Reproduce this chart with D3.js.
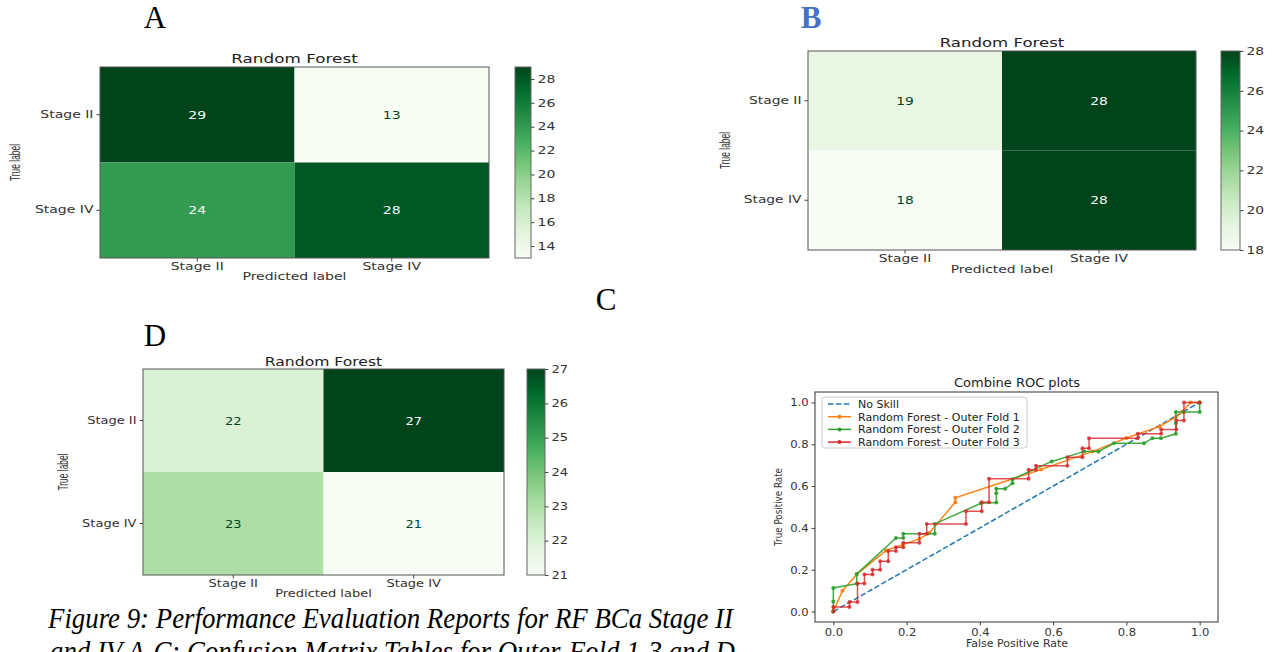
<!DOCTYPE html>
<html>
<head>
<meta charset="utf-8">
<script src="https://cdn.jsdelivr.net/npm/d3@7"></script>
<style>
    body { margin: 0; background: white; }
    svg { font-family: "DejaVu Sans", sans-serif; }
</style>
</head>
<body>
<svg id="fig" width="1274" height="652"></svg>
<script>
    // class names of the confusion matrices
    const classes = ["Stage II", "Stage IV"];

    // confusion matrices, rows = true label, columns = predicted label
    const matrixA = [[29, 13], [24, 28]];
    const matrixB = [[19, 28], [18, 28]];
    const matrixD = [[22, 27], [23, 21]];

    // colorbar tick labels
    const ticksA = [14, 16, 18, 20, 22, 24, 26, 28];
    const ticksB = [18, 20, 22, 24, 26, 28];
    const ticksD = [21, 22, 23, 24, 25, 26, 27];

    // ROC curves, [false positive rate, true positive rate]
    const rocTicks = [0, 0.2, 0.4, 0.6, 0.8, 1.0];
    const noSkill = [[0, 0], [1, 1]];
    const fold1 = [[0, 0], [0.025, 0.1], [0.064, 0.178], [0.144, 0.292], [0.19, 0.32], [0.235, 0.348],
        [0.262, 0.376], [0.333, 0.523], [0.333, 0.544], [0.567, 0.679], [0.707, 0.765], [0.8, 0.83],
        [0.89, 0.885], [0.935, 0.93], [0.953, 0.957], [0.975, 1.0], [1.0, 1.0]];
    const fold2 = [[0, 0], [0, 0.048], [0, 0.113], [0.064, 0.133], [0.064, 0.18], [0.171, 0.352],
        [0.191, 0.352], [0.191, 0.372], [0.277, 0.372], [0.277, 0.419], [0.403, 0.518], [0.445, 0.521],
        [0.445, 0.566], [0.445, 0.587], [0.469, 0.587], [0.489, 0.614], [0.489, 0.633], [0.596, 0.718],
        [0.685, 0.766], [0.724, 0.766], [0.766, 0.805], [0.848, 0.805], [0.871, 0.829], [0.894, 0.829],
        [0.935, 0.85], [0.935, 0.9], [0.935, 0.954], [0.957, 0.954], [1.0, 0.954], [1.0, 1.0]];
    const fold3 = [[0, 0], [0, 0.022], [0.044, 0.022], [0.044, 0.046], [0.066, 0.046], [0.066, 0.134],
        [0.085, 0.134], [0.085, 0.177], [0.107, 0.177], [0.107, 0.2], [0.128, 0.2], [0.128, 0.241],
        [0.15, 0.241], [0.15, 0.289], [0.171, 0.289], [0.171, 0.308], [0.191, 0.308], [0.191, 0.329],
        [0.235, 0.329], [0.235, 0.372], [0.255, 0.372], [0.255, 0.419], [0.362, 0.419], [0.362, 0.48],
        [0.405, 0.48], [0.405, 0.523], [0.425, 0.523], [0.425, 0.635], [0.533, 0.635], [0.533, 0.678],
        [0.553, 0.678], [0.553, 0.697], [0.639, 0.697], [0.639, 0.738], [0.68, 0.738], [0.68, 0.781],
        [0.698, 0.781], [0.698, 0.829], [0.831, 0.829], [0.831, 0.85], [0.895, 0.85], [0.895, 0.871],
        [0.936, 0.871], [0.936, 0.914], [0.957, 0.914], [0.957, 1.0], [1.0, 1.0]];

    const svg = d3.select("#fig");
    svg.append("rect").attr("width", 1274).attr("height", 652).attr("fill", "white");

    // matplotlib "Greens" = linear ramp through the 9 colorbrewer colours
    const greens = d3.scaleLinear()
        .domain(d3.range(9).map(i => i / 8))
        .range(d3.schemeGreens[9]);

    // the figure was stretched sideways, so widen the text to match
    function fitText(sel, sx) {
        sel.each(function () {
            const n = this.getComputedTextLength();
            d3.select(this).attr("textLength", n * sx).attr("lengthAdjust", "spacingAndGlyphs");
        });
    }

    function styleAxis(g, size, sx) {
        g.select(".domain").remove();
        g.selectAll(".tick line").attr("stroke", "#444");
        g.selectAll(".tick text")
            .attr("font-family", "DejaVu Sans")
            .attr("font-size", size)
            .attr("fill", "#333");
        if (sx) g.selectAll(".tick text").call(fitText, sx);
    }

    function drawMatrix(p) {
        const g = svg.append("g");
        const flat = p.matrix.flat();
        const lo = d3.min(flat), hi = d3.max(flat);
        const color = v => greens((v - lo) / (hi - lo));

        const x = d3.scaleBand().domain(classes).range([p.x, p.x + p.w]);
        const y = d3.scaleBand().domain(classes).range([p.y, p.y + p.h]);

        let cells = [];
        p.matrix.forEach((row, i) => row.forEach((v, j) => cells.push({ t: classes[i], pr: classes[j], v: v })));

        g.selectAll("rect.cell").data(cells).join("rect")
            .attr("class", "cell")
            .attr("x", d => x(d.pr)).attr("y", d => y(d.t))
            .attr("width", x.bandwidth()).attr("height", y.bandwidth())
            .attr("fill", d => color(d.v));

        g.append("rect")
            .attr("x", p.x).attr("y", p.y).attr("width", p.w).attr("height", p.h)
            .attr("fill", "none").attr("stroke", "#555").attr("stroke-width", 1);

        const thresh = (lo + hi) / 2;
        g.selectAll("text.val").data(cells).join("text")
            .attr("class", "val")
            .attr("x", d => x(d.pr) + x.bandwidth() / 2)
            .attr("y", d => y(d.t) + y.bandwidth() / 2 + 4)
            .attr("text-anchor", "middle")
            .attr("font-size", 10)
            .attr("fill", d => d.v < thresh ? greens(1) : greens(0))
            .text(d => d.v)
            .call(fitText, p.sx);

        g.append("g").attr("transform", `translate(${p.x},0)`)
            .call(d3.axisLeft(y).tickSize(3.5).tickPadding(3))
            .call(styleAxis, 10, p.sx);
        g.append("g").attr("transform", `translate(0,${p.y + p.h})`)
            .call(d3.axisBottom(x).tickSize(3.5).tickPadding(1))
            .call(styleAxis, 10, p.sx);

        // title and axis labels
        g.append("text").attr("x", p.x + p.w / 2).attr("y", p.titleY)
            .attr("text-anchor", "middle").attr("font-size", 12).attr("fill", "#222")
            .text("Random Forest").call(fitText, p.sx);
        g.append("text").attr("x", p.x + p.w / 2).attr("y", p.predY)
            .attr("text-anchor", "middle").attr("font-size", 10).attr("fill", "#333")
            .text("Predicted label").call(fitText, p.sx);
        g.append("text")
            .attr("transform", `translate(${p.trueX},${p.y + p.h / 2}) rotate(-90)`)
            .attr("text-anchor", "middle").attr("font-size", 15).attr("fill", "#333")
            .attr("font-family", "Liberation Sans")
            .attr("textLength", 37).attr("lengthAdjust", "spacingAndGlyphs")
            .text("True label");

        // colorbar
        const gid = "grad" + p.id;
        const grad = svg.append("defs").append("linearGradient")
            .attr("id", gid).attr("x1", 0).attr("y1", 1).attr("x2", 0).attr("y2", 0);
        d3.range(0, 1.0001, 0.05).forEach(t => {
            grad.append("stop").attr("offset", t).attr("stop-color", greens(t));
        });
        g.append("rect")
            .attr("x", p.cbX).attr("y", p.y).attr("width", p.cbW).attr("height", p.h)
            .attr("fill", `url(#${gid})`).attr("stroke", "#666").attr("stroke-width", 1);
        const cb = d3.scaleLinear().domain([lo, hi]).range([p.y + p.h, p.y]);
        g.append("g").attr("transform", `translate(${p.cbX + p.cbW},0)`)
            .call(d3.axisRight(cb).tickValues(p.ticks).tickFormat(d3.format("d")).tickSize(3.5).tickPadding(3))
            .call(styleAxis, 10, p.sx);
    }

    drawMatrix({ id: "A", matrix: matrixA, ticks: ticksA, x: 100, y: 67, w: 389, h: 191,
        cbX: 515, cbW: 16, titleY: 63, predY: 280, trueX: 20, sx: 1.4 });
    drawMatrix({ id: "B", matrix: matrixB, ticks: ticksB, x: 808, y: 51, w: 388, h: 199,
        cbX: 1221, cbW: 19, titleY: 47, predY: 273, trueX: 730, sx: 1.38 });
    drawMatrix({ id: "D", matrix: matrixD, ticks: ticksD, x: 143, y: 369, w: 361, h: 206,
        cbX: 527, cbW: 18, titleY: 366, predY: 597, trueX: 68, sx: 1.3 });

    // ROC panel
    const rx = d3.scaleLinear().domain([-0.05, 1.05]).range([815, 1218]);
    const ry = d3.scaleLinear().domain([-0.05, 1.05]).range([622, 392]);
    const roc = svg.append("g");

    roc.append("g").attr("transform", "translate(0,622)")
        .call(d3.axisBottom(rx).tickValues(rocTicks).tickFormat(d3.format(".1f")).tickSize(3.5).tickPadding(3))
        .call(styleAxis, 11, 1.05);
    roc.append("g").attr("transform", "translate(815,0)")
        .call(d3.axisLeft(ry).tickValues(rocTicks).tickFormat(d3.format(".1f")).tickSize(3.5).tickPadding(3))
        .call(styleAxis, 11, 1.05);

    const line = d3.line().x(d => rx(d[0])).y(d => ry(d[1]));
    roc.append("path").datum(noSkill).attr("d", line)
        .attr("fill", "none").attr("stroke", "#1f77b4").attr("stroke-width", 1.5)
        .attr("stroke-dasharray", "5.5,2.4");

    const series = [
        { data: fold1, color: "#ff7f0e", name: "Random Forest - Outer Fold 1", op: 0.95 },
        { data: fold2, color: "#2ca02c", name: "Random Forest - Outer Fold 2", op: 0.9 },
        { data: fold3, color: "#d62728", name: "Random Forest - Outer Fold 3", op: 0.8 }
    ];
    series.forEach(s => {
        roc.append("path").datum(s.data).attr("d", line)
            .attr("fill", "none").attr("stroke", s.color).attr("stroke-width", 1.5)
            .attr("stroke-opacity", s.op);
        roc.selectAll(null).data(s.data).join("circle")
            .attr("cx", d => rx(d[0])).attr("cy", d => ry(d[1])).attr("r", 2)
            .attr("fill", s.color).attr("fill-opacity", s.op);
    });

    roc.append("rect").attr("x", 815).attr("y", 392).attr("width", 403).attr("height", 230)
        .attr("fill", "none").attr("stroke", "#333").attr("stroke-width", 1);

    // legend
    const leg = roc.append("g");
    leg.append("rect").attr("x", 822).attr("y", 397).attr("width", 205).attr("height", 51).attr("rx", 3)
        .attr("fill", "white").attr("fill-opacity", 0.85).attr("stroke", "#ccc");
    const legItems = [{ color: "#1f77b4", name: "No Skill", dash: true }].concat(series);
    legItems.forEach((s, i) => {
        const ly = 404 + i * 12.7;
        leg.append("line").attr("x1", 828).attr("x2", 851).attr("y1", ly).attr("y2", ly)
            .attr("stroke", s.color).attr("stroke-width", 1.5)
            .attr("stroke-dasharray", s.dash ? "5.5,2.4" : null);
        if (!s.dash) leg.append("circle").attr("cx", 839.5).attr("cy", ly).attr("r", 2).attr("fill", s.color);
        leg.append("text").attr("x", 858).attr("y", ly + 4).attr("font-size", 11).attr("fill", "#222")
            .text(s.name);
    });

    roc.append("text").attr("x", 1017).attr("y", 387).attr("text-anchor", "middle")
        .attr("font-size", 13).attr("fill", "#222").text("Combine ROC plots");
    roc.append("text").attr("x", 1017).attr("y", 647).attr("text-anchor", "middle")
        .attr("font-size", 11).attr("fill", "#333").text("False Positive Rate");
    roc.append("text").attr("transform", "translate(782,507) rotate(-90)")
        .attr("text-anchor", "middle").attr("font-size", 11).attr("fill", "#333")
        .attr("textLength", 78).attr("lengthAdjust", "spacingAndGlyphs")
        .text("True Positive Rate");

    // panel letters and caption
    const serif = "Liberation Serif";
    [["A", 155, 28, "#000", "normal"], ["B", 811, 28, "#4472c4", "bold"],
     ["C", 606, 310, "#000", "normal"], ["D", 155, 346, "#000", "normal"]].forEach(l => {
        svg.append("text").attr("x", l[1]).attr("y", l[2]).attr("text-anchor", "middle")
            .attr("font-family", serif).attr("font-size", 31).attr("font-weight", l[4])
            .attr("fill", l[3]).text(l[0]);
    });

    svg.append("text").attr("x", 48).attr("y", 628)
        .attr("font-family", serif).attr("font-style", "italic").attr("font-size", 29)
        .attr("textLength", 685).attr("lengthAdjust", "spacingAndGlyphs")
        .text("Figure 9: Performance Evaluation Reports for RF BCa Stage II");
    svg.append("text").attr("x", 50).attr("y", 661)
        .attr("font-family", serif).attr("font-style", "italic").attr("font-size", 29)
        .attr("textLength", 685).attr("lengthAdjust", "spacingAndGlyphs")
        .text("and IV A-C: Confusion Matrix Tables for Outer-Fold 1-3 and D");
</script>
</body>
</html>
